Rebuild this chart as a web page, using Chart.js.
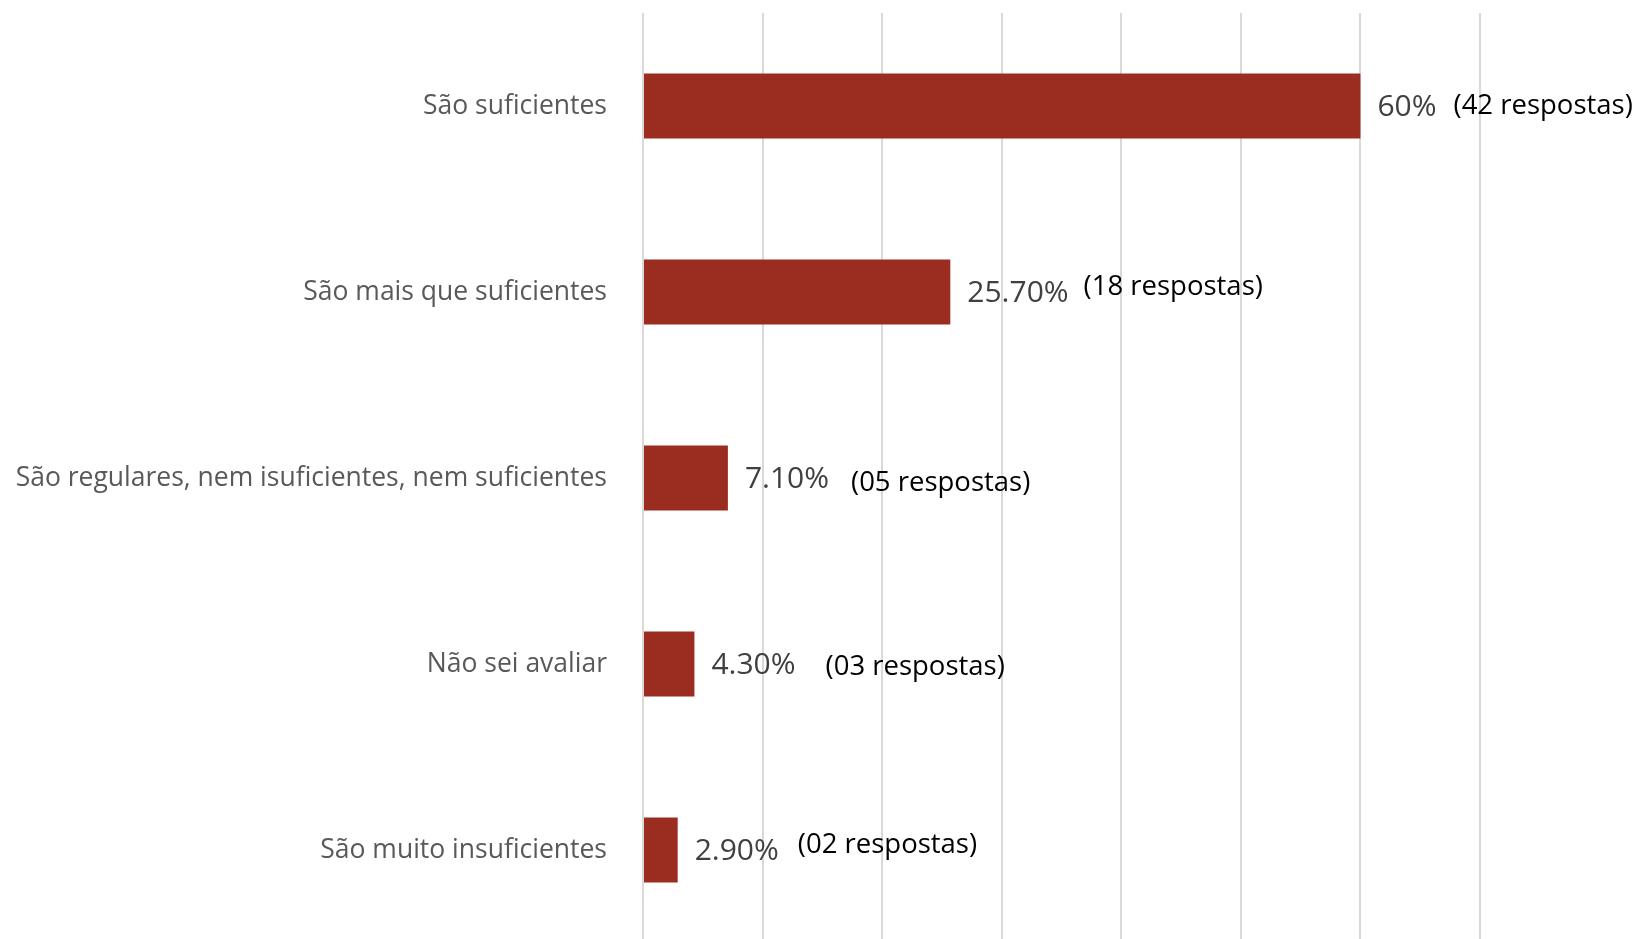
<!DOCTYPE html>
<html>
<head>
<meta charset="utf-8">
<script src="https://cdn.jsdelivr.net/npm/chart.js@4.4.0/dist/chart.umd.min.js"></script>
<style>
  html, body { margin: 0; padding: 0; background: #fff; overflow: hidden; }
</style>
</head>
<body>
<canvas id="chart" width="1637" height="943"></canvas>
<script>
const categories = [
  "São suficientes",
  "São mais que suficientes",
  "São regulares, nem isuficientes, nem suficientes",
  "Não sei avaliar",
  "São muito insuficientes"
];
const percentages = [60, 25.7, 7.1, 4.3, 2.9];
const percentLabels = ["60%", "25.70%", "7.10%", "4.30%", "2.90%"];
const answerLabels = ["(42 respostas)", "(18 respostas)", "(05 respostas)", "(03 respostas)", "(02 respostas)"];

// the "(xx respostas)" boxes sit a bit loose in the original
const answerGap = [17, 15, 22, 30, 19];
const answerDy = [-1, -6, 4, 2, -6];

const FONT = "'Open Sans', 'DejaVu Sans', sans-serif";

const barLabels = {
  id: "barLabels",
  afterDatasetsDraw(chart) {
    const ctx = chart.ctx;
    const meta = chart.getDatasetMeta(0);
    ctx.save();
    ctx.textBaseline = "middle";
    ctx.textAlign = "left";
    meta.data.forEach((bar, i) => {
      const x = bar.x + 17;
      ctx.font = "30px " + FONT;
      ctx.fillStyle = "#404040";
      ctx.fillText(percentLabels[i], x, bar.y + 1);
      const w = ctx.measureText(percentLabels[i]).width;
      ctx.font = "27.5px " + FONT;
      ctx.fillStyle = "#000000";
      ctx.fillText(answerLabels[i], x + w + answerGap[i], bar.y + 1 + answerDy[i]);
    });
    ctx.restore();
  }
};

const ctx = document.getElementById("chart").getContext("2d");
const chart = new Chart(ctx, {
  type: "bar",
  data: {
    labels: categories,
    datasets: [
      {
        data: percentages,
        backgroundColor: "#9b2d20",
        borderWidth: 0,
        barPercentage: 0.35,
        categoryPercentage: 1
      }
    ]
  },
  options: {
    indexAxis: "y",
    responsive: false,
    animation: false,
    layout: { padding: { top: 13, right: 157, bottom: 0, left: 0 } },
    plugins: {
      legend: { display: false },
      tooltip: { enabled: false }
    },
    scales: {
      x: {
        min: 0,
        max: 70,
        ticks: { display: false, stepSize: 10 },
        grid: { color: "#d9d9d9", lineWidth: 2, drawTicks: false },
        border: { display: false },
        afterFit: scale => { scale.height = 0; }
      },
      y: {
        grid: { display: false, drawTicks: false },
        border: { display: false },
        ticks: {
          color: "#595959",
          padding: 36,
          font: { family: FONT, size: 26.5 }
        },
        afterFit: scale => {
          scale.width = 643;
          scale.paddingTop = 0;
          scale.paddingBottom = 0;
        }
      }
    }
  },
  plugins: [barLabels]
});
</script>
</body>
</html>
